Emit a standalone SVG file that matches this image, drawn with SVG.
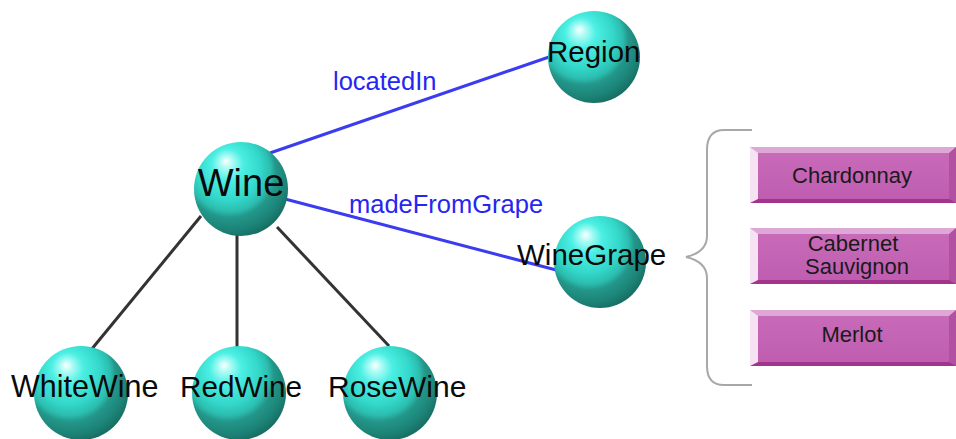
<svg xmlns="http://www.w3.org/2000/svg" width="956" height="439" viewBox="0 0 956 439">
  <defs>
    <radialGradient id="ball" cx="0.4" cy="0.36" r="0.68" fx="0.34" fy="0.2">
      <stop offset="0" stop-color="#ffffff"/>
      <stop offset="0.09" stop-color="#b0fcf6"/>
      <stop offset="0.25" stop-color="#4cefe3"/>
      <stop offset="0.5" stop-color="#33d8ca"/>
      <stop offset="0.64" stop-color="#2bbdaf"/>
      <stop offset="0.72" stop-color="#23978a"/>
      <stop offset="0.88" stop-color="#1c8276"/>
      <stop offset="1" stop-color="#166a60"/>
    </radialGradient>
    <linearGradient id="boxFill" x1="0" y1="0" x2="0" y2="1">
      <stop offset="0" stop-color="#c86cb9"/>
      <stop offset="1" stop-color="#bf5cb0"/>
    </linearGradient>
  </defs>
  <style>
    .ball { fill: url(#ball); }
    .lbl { font-family: "Liberation Sans", Arial, sans-serif; fill: #0a0a0a; }
    .rel { font-family: "Liberation Sans", Arial, sans-serif; fill: #2626f2; font-size: 25.5px; }
    .blue { stroke: #3b3bf0; stroke-width: 3; fill: none; }
    .dark { stroke: #333; stroke-width: 3; fill: none; }
    .brace { stroke: #a8a8a8; stroke-width: 2; fill: none; }
    .boxMain { fill: url(#boxFill); }
    .boxTop { fill: #dda7d6; }
    .boxBot { fill: #a3348c; }
    .boxLeft { fill: #f6e2f2; }
    .boxRight { fill: #b250a2; }
    .boxTxt { font-family: "Liberation Sans", Arial, sans-serif; font-size: 22px; fill: #1a1a1a; text-anchor: middle; }
  </style>

  <!-- connectors -->
  <g id="connectors">
    <line class="blue" x1="270" y1="153" x2="552" y2="56"/>
    <line class="blue" x1="285" y1="199" x2="560" y2="271"/>
    <line class="dark" x1="201" y1="216" x2="91" y2="350"/>
    <line class="dark" x1="237" y1="234" x2="237" y2="350"/>
    <line class="dark" x1="277" y1="227" x2="389" y2="346"/>
    <text class="rel" x="333" y="90">locatedIn</text>
    <text class="rel" x="349" y="213">madeFromGrape</text>
  </g>

  <!-- class nodes -->
  <g id="node-wine">
    <circle class="ball" cx="241" cy="189" r="47"/>
    <text class="lbl" x="241" y="196" font-size="38" text-anchor="middle">Wine</text>
  </g>
  <g id="node-region">
    <circle class="ball" cx="594" cy="57" r="46"/>
    <text class="lbl" x="547" y="62" font-size="29.5">Region</text>
  </g>
  <g id="node-winegrape">
    <circle class="ball" cx="600" cy="262" r="46"/>
    <text class="lbl" x="517" y="265" font-size="29.5">WineGrape</text>
  </g>
  <g id="node-whitewine">
    <circle class="ball" cx="81" cy="393" r="47"/>
    <text class="lbl" x="11" y="397" font-size="30.5">WhiteWine</text>
  </g>
  <g id="node-redwine">
    <circle class="ball" cx="239" cy="393" r="47"/>
    <text class="lbl" x="180" y="397" font-size="29.7">RedWine</text>
  </g>
  <g id="node-rosewine">
    <circle class="ball" cx="390" cy="393" r="47"/>
    <text class="lbl" x="328" y="397" font-size="30">RoseWine</text>
  </g>

  <!-- grape varieties -->
  <g id="brace">
    <path class="brace" d="M752,130 H724 Q707,130 707,150 V236 Q707,252 686,257 Q707,262 707,278 V366 Q707,385 724,385 H752"/>
  </g>
  <g id="box-chardonnay">
    <rect class="boxMain" x="750" y="147" width="206" height="56"/>
    <rect class="boxTop" x="750" y="147" width="206" height="6"/>
    <rect class="boxBot" x="750" y="199" width="206" height="4"/>
    <polygon class="boxLeft" points="750,147 758,153 758,199 750,203"/>
    <polygon class="boxRight" points="956,147 949,153 949,199 956,203"/>
    <text class="boxTxt" x="852" y="183">Chardonnay</text>
  </g>
  <g id="box-cabernet">
    <rect class="boxMain" x="750" y="228" width="206" height="56"/>
    <rect class="boxTop" x="750" y="228" width="206" height="6"/>
    <rect class="boxBot" x="750" y="280" width="206" height="4"/>
    <polygon class="boxLeft" points="750,228 758,234 758,280 750,284"/>
    <polygon class="boxRight" points="956,228 949,234 949,280 956,284"/>
    <text class="boxTxt" x="853" y="251">Cabernet</text>
    <text class="boxTxt" x="857" y="274">Sauvignon</text>
  </g>
  <g id="box-merlot">
    <rect class="boxMain" x="750" y="310" width="206" height="56"/>
    <rect class="boxTop" x="750" y="310" width="206" height="6"/>
    <rect class="boxBot" x="750" y="362" width="206" height="4"/>
    <polygon class="boxLeft" points="750,310 758,316 758,362 750,366"/>
    <polygon class="boxRight" points="956,310 949,316 949,362 956,366"/>
    <text class="boxTxt" x="852" y="342">Merlot</text>
  </g>
</svg>
